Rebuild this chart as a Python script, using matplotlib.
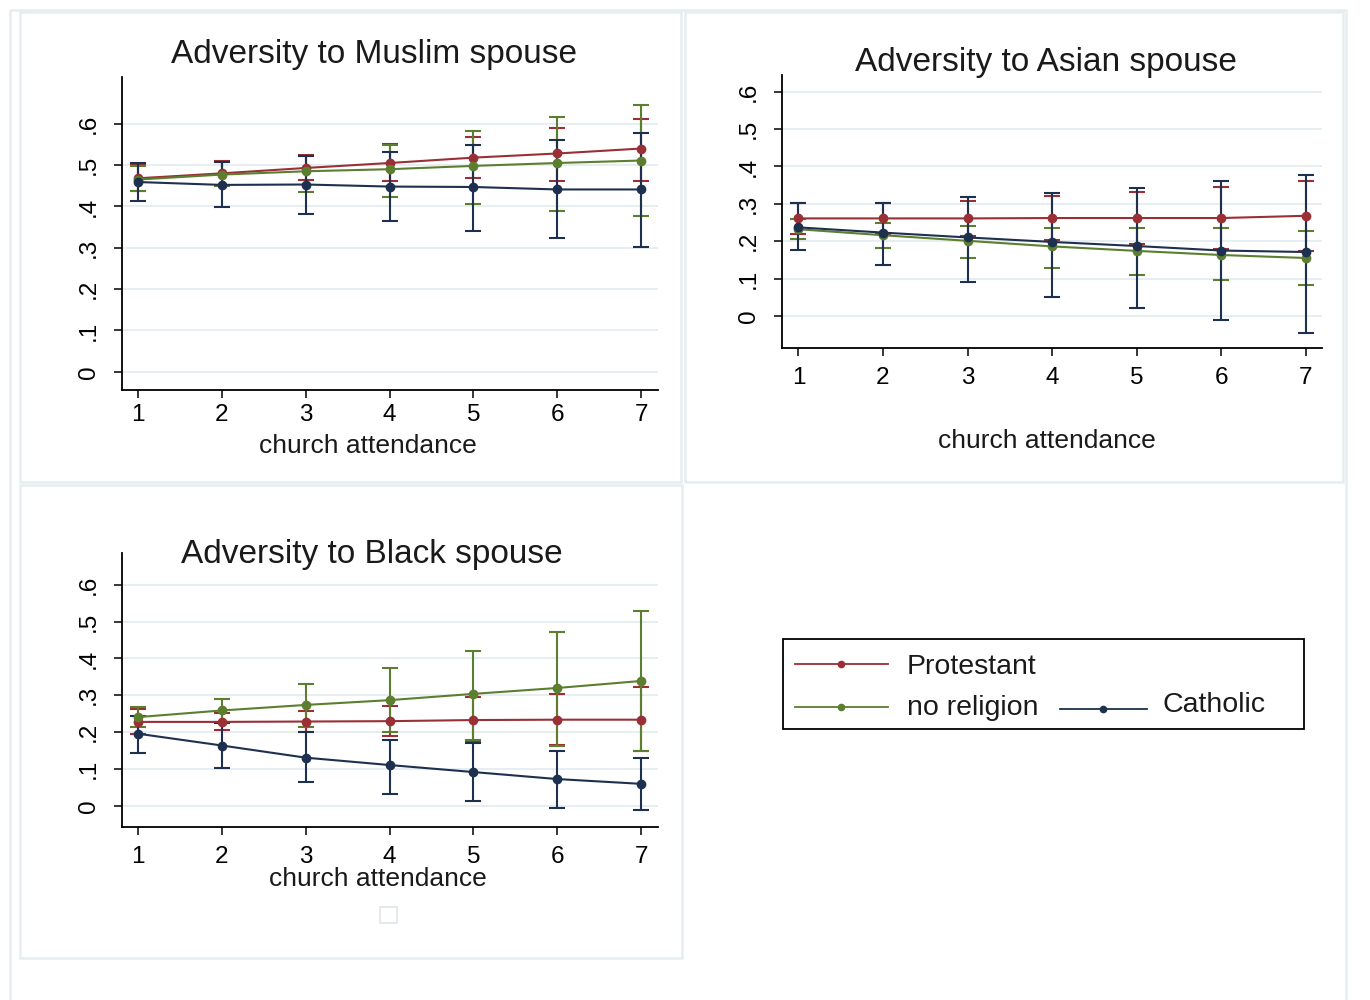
import matplotlib
matplotlib.use("Agg")
import matplotlib.pyplot as plt
from matplotlib.lines import Line2D
from matplotlib.patches import Rectangle

plt.rcParams['font.family'] = ['Liberation Sans', 'DejaVu Sans']

# ---- data -------------------------------------------------------------
attendance = [1, 2, 3, 4, 5, 6, 7]
y_ticks = [0, 0.1, 0.2, 0.3, 0.4, 0.5, 0.6]
y_tick_labels = ['0', '.1', '.2', '.3', '.4', '.5', '.6']
groups = ['Protestant', 'no religion', 'Catholic']

# Adversity to Muslim spouse
muslim_prot = [0.468, 0.480, 0.493, 0.505, 0.518, 0.528, 0.540]
muslim_prot_lo = [0.437, 0.452, 0.463, 0.462, 0.468, 0.462, 0.462]
muslim_prot_hi = [0.500, 0.510, 0.525, 0.552, 0.567, 0.589, 0.612]
muslim_none = [0.465, 0.477, 0.485, 0.490, 0.498, 0.505, 0.511]
muslim_none_lo = [0.437, 0.450, 0.435, 0.423, 0.406, 0.388, 0.376]
muslim_none_hi = [0.497, 0.508, 0.523, 0.549, 0.583, 0.617, 0.646]
muslim_cath = [0.459, 0.452, 0.453, 0.448, 0.447, 0.441, 0.441]
muslim_cath_lo = [0.412, 0.398, 0.381, 0.364, 0.341, 0.323, 0.301]
muslim_cath_hi = [0.505, 0.508, 0.523, 0.532, 0.549, 0.561, 0.577]

# Adversity to Asian spouse
asian_prot = [0.261, 0.261, 0.261, 0.262, 0.262, 0.262, 0.268]
asian_prot_lo = [0.220, 0.218, 0.214, 0.204, 0.192, 0.178, 0.174]
asian_prot_hi = [0.303, 0.303, 0.308, 0.320, 0.333, 0.346, 0.362]
asian_none = [0.232, 0.216, 0.201, 0.186, 0.174, 0.163, 0.155]
asian_none_lo = [0.205, 0.182, 0.155, 0.128, 0.110, 0.096, 0.083]
asian_none_hi = [0.260, 0.250, 0.242, 0.235, 0.235, 0.234, 0.227]
asian_cath = [0.237, 0.223, 0.210, 0.198, 0.187, 0.175, 0.171]
asian_cath_lo = [0.176, 0.137, 0.091, 0.051, 0.020, -0.012, -0.046]
asian_cath_hi = [0.301, 0.303, 0.318, 0.330, 0.343, 0.362, 0.377]

# Adversity to Black spouse
black_prot = [0.228, 0.228, 0.229, 0.230, 0.233, 0.234, 0.234]
black_prot_lo = [0.195, 0.205, 0.200, 0.190, 0.175, 0.165, 0.148]
black_prot_hi = [0.262, 0.252, 0.258, 0.272, 0.295, 0.305, 0.323]
black_none = [0.241, 0.259, 0.274, 0.287, 0.304, 0.320, 0.339]
black_none_lo = [0.215, 0.228, 0.215, 0.200, 0.180, 0.164, 0.148]
black_none_hi = [0.268, 0.291, 0.330, 0.374, 0.419, 0.472, 0.528]
black_cath = [0.196, 0.164, 0.131, 0.111, 0.092, 0.073, 0.060]
black_cath_lo = [0.145, 0.103, 0.065, 0.032, 0.014, -0.005, -0.012]
black_cath_hi = [0.245, 0.225, 0.200, 0.180, 0.170, 0.150, 0.129]

# ---- styling ----------------------------------------------------------
W, H = 1370, 1000
colors = {'Protestant': '#9a2f35', 'no religion': '#5b7f2f', 'Catholic': '#1e3050'}
frame_col = '#e6edf0'
grid_col = '#e2ebef'

fig = plt.figure(figsize=(W / 100, H / 100), dpi=100)
fig.patch.set_facecolor('white')

# overlay in pixel coordinates for frames and legend
bg = fig.add_axes([0, 0, 1, 1], zorder=0)
bg.set_xlim(0, W)
bg.set_ylim(H, 0)
bg.axis('off')
bg.add_patch(Rectangle((10, 10), 1336, 1000, fill=False, ec=frame_col, lw=1.8))
for (x0, y0, x1, y1) in [(20, 12, 681, 482), (685, 12, 1343, 482), (20, 485, 682, 958)]:
    bg.add_patch(Rectangle((x0, y0), x1 - x0, y1 - y0, fill=False, ec=frame_col, lw=1.8))
bg.add_patch(Rectangle((380, 907), 17, 16, fill=False, ec='#dfe6e9', lw=1.2))


def px_axes(left, top, right, bottom):
    return fig.add_axes([left / W, 1 - bottom / H, (right - left) / W, (bottom - top) / H], zorder=2)


def panel(ax, series, xlim, ylim, xpad, ypad):
    ax.set_facecolor('none')
    for name, (mean, lo, hi) in series.items():
        c = colors[name]
        ax.errorbar(attendance, mean,
                    yerr=[[m - l for m, l in zip(mean, lo)], [h - m for m, h in zip(mean, hi)]],
                    fmt='none', ecolor=c, elinewidth=1.5, capsize=5.5, capthick=1.5, zorder=3)
    for name, (mean, lo, hi) in series.items():
        ax.plot(attendance, mean, color=colors[name], lw=1.5, marker='o', ms=6,
                mec=colors[name], mfc=colors[name], zorder=4)
    ax.set_xlim(*xlim)
    ax.set_ylim(*ylim)
    ax.set_xticks(attendance)
    ax.set_yticks(y_ticks)
    ax.set_yticklabels(y_tick_labels, rotation=90, va='center')
    for g in y_ticks:
        ax.axhline(g, color=grid_col, lw=1.2, zorder=1)
    for s in ('top', 'right'):
        ax.spines[s].set_visible(False)
    for s in ('left', 'bottom'):
        ax.spines[s].set_linewidth(1.3)
        ax.spines[s].set_color('black')
    ax.tick_params(axis='both', direction='out', length=6, width=1.1, labelsize=17.5)
    ax.tick_params(axis='x', pad=xpad)
    ax.tick_params(axis='y', pad=ypad)


ax1 = px_axes(122, 77, 658, 390)
panel(ax1, {'Protestant': (muslim_prot, muslim_prot_lo, muslim_prot_hi),
            'no religion': (muslim_none, muslim_none_lo, muslim_none_hi),
            'Catholic': (muslim_cath, muslim_cath_lo, muslim_cath_hi)},
      (0.81, 7.2), (-0.044, 0.713), 4, 10)

ax2 = px_axes(782, 75, 1322, 348)
panel(ax2, {'Protestant': (asian_prot, asian_prot_lo, asian_prot_hi),
            'no religion': (asian_none, asian_none_lo, asian_none_hi),
            'Catholic': (asian_cath, asian_cath_lo, asian_cath_hi)},
      (0.806, 7.19), (-0.086, 0.645), 8, 10)

ax3 = px_axes(122, 553, 658, 827)
panel(ax3, {'Protestant': (black_prot, black_prot_lo, black_prot_hi),
            'no religion': (black_none, black_none_lo, black_none_hi),
            'Catholic': (black_cath, black_cath_lo, black_cath_hi)},
      (0.81, 7.2), (-0.057, 0.686), 8, 10)

# titles and axis titles
title_kw = dict(fontsize=24, ha='center', va='center', color='#1a1a1a')
xl_kw = dict(fontsize=19, ha='center', va='center', color='#1a1a1a')
bg.text(374, 54, 'Adversity to Muslim spouse', **title_kw)
bg.text(1046, 62, 'Adversity to Asian spouse', **title_kw)
bg.text(372, 554, 'Adversity to Black spouse', **title_kw)
bg.text(368, 446, 'church attendance', **xl_kw)
bg.text(1047, 441, 'church attendance', **xl_kw)
bg.text(378, 879, 'church attendance', **xl_kw)

# legend box
bg.add_patch(Rectangle((783, 639), 521, 90, fill=False, ec='black', lw=1.3))
leg_entries = [('Protestant', 795, 888, 664, 907, 667),
               ('no religion', 795, 888, 707, 907, 708),
               ('Catholic', 1060, 1147, 709, 1163, 705)]
for name, lx0, lx1, ly, tx, ty in leg_entries:
    c = colors[name]
    bg.add_line(Line2D([lx0, lx1], [ly, ly], color=c, lw=1.3))
    bg.add_line(Line2D([(lx0 + lx1) / 2], [ly], color=c, marker='o', ms=4.5, mec=c, mfc=c))
    bg.text(tx, ty, name, fontsize=20.5, ha='left', va='center', color='#1a1a1a')

fig.savefig('out.png', dpi=100, facecolor='white')
